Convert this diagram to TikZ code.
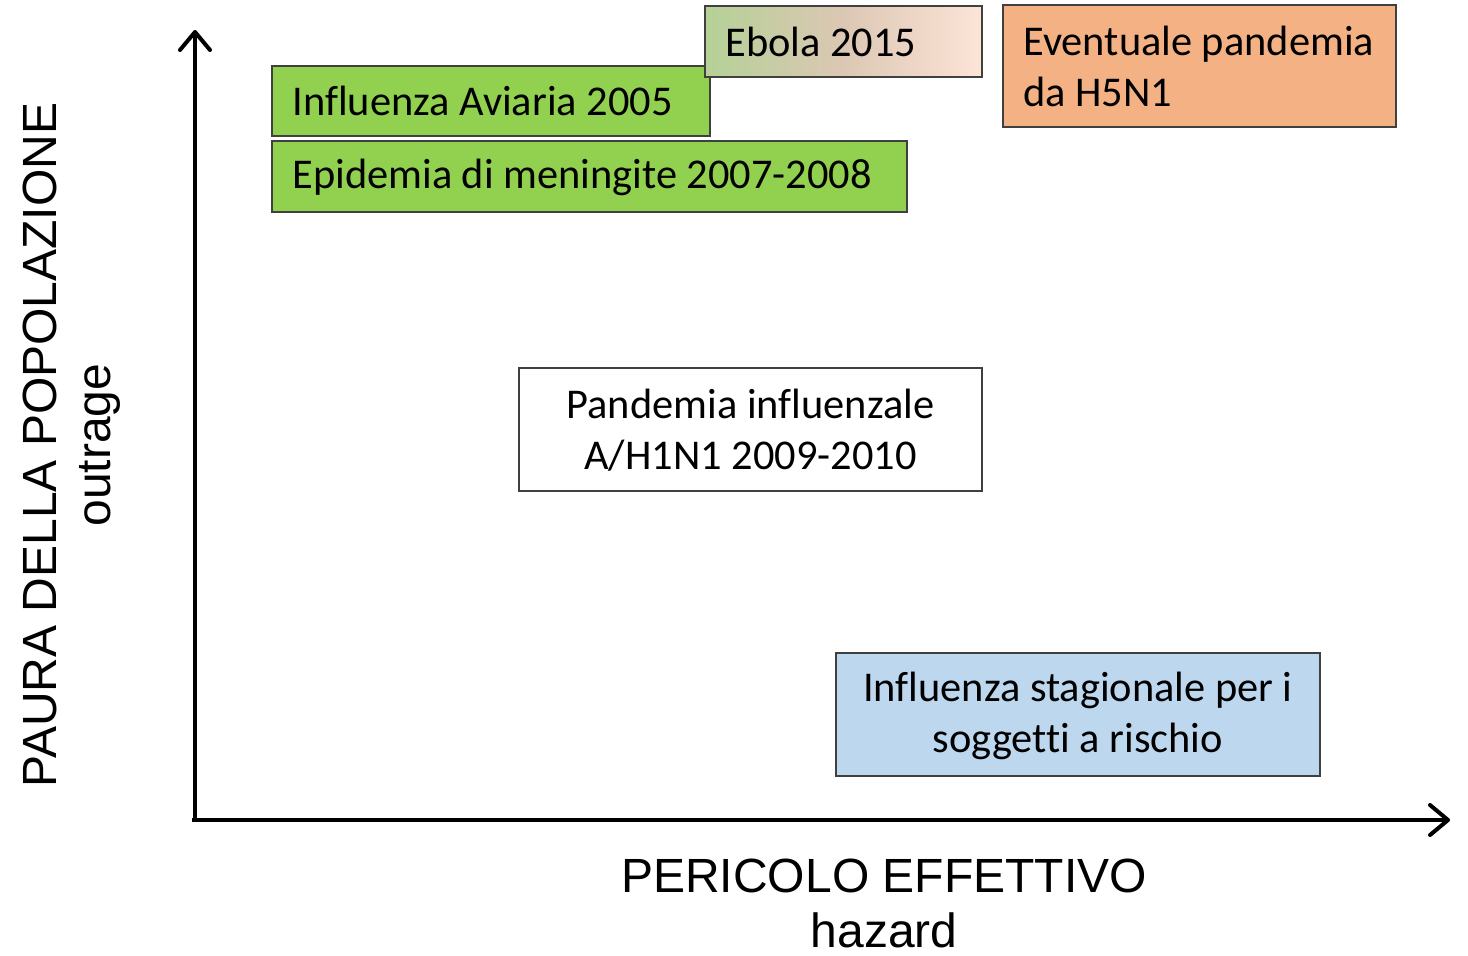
\documentclass[tikz,border=0pt]{standalone}
\usepackage{fontspec}
\setmainfont[Ligatures={NoCommon}]{Carlito}
\newfontfamily\axisfont{Liberation Sans}
\usetikzlibrary{arrows.meta}
\definecolor{grn}{HTML}{92D050}
\definecolor{peach}{HTML}{F4B183}
\definecolor{lblue}{HTML}{BDD7EE}
\definecolor{ebL}{HTML}{B4D196}
\definecolor{ebM}{HTML}{DCC7B4}
\definecolor{ebR}{HTML}{FCE4D6}
\begin{document}
\begin{tikzpicture}[x=0.5pt,y=-0.5pt,
  box/.style={draw=black!75, line width=0.6pt, inner sep=0pt, outer sep=0pt, anchor=north west},
  txt/.style={inner sep=0pt, font=\fontsize{21.2}{25.5}\selectfont},
  axis/.style={line width=2pt, -{Straight Barb[length=9pt,width=15pt,line cap=round,line join=round]}},
  albl/.style={font=\axisfont\fontsize{24}{28}\selectfont, inner sep=0pt}]
\useasboundingbox (0,0) rectangle (1468,955);
% boxes
\node[box, fill=grn, minimum width=219pt, minimum height=35pt] (avi) at (272,66) {};
\node[txt, anchor=west] (avit) at (292,101) {Influenza Aviaria 2005};
\path[left color=ebL, right color=ebR, middle color=ebM] (705,6) rectangle (982,77);
\node[box, minimum width=138.5pt, minimum height=35.5pt] (ebo) at (705,6) {};
\node[txt, anchor=west] (ebot) at (725,42) {Ebola 2015};
\node[box, fill=grn, minimum width=317.5pt, minimum height=35.5pt] (epi) at (272,141) {};
\node[txt, anchor=west] (epit) at (292,177) {Epidemia di meningite 2007-2008};
\node[box, fill=peach, minimum width=196.5pt, minimum height=61pt] (eve) at (1003,5) {};
\node[txt, anchor=north west, align=left] (evet) at (1023,26) {Eventuale pandemia\\da H5N1};
\node[box, fill=white, minimum width=231.5pt, minimum height=61.5pt] (pan) at (519,368) {};
\node[txt, align=center] (pant) at (750.5,430) {Pandemia influenzale\\A/H1N1 2009-2010};
\node[box, fill=lblue, minimum width=242pt, minimum height=61.5pt] (sta) at (836,653) {};
\node[txt, align=center] (stat) at (1078,716) {Influenza stagionale per i\\soggetti a rischio};
% axes
\coordinate (ytop) at (195,30);
\coordinate (xend) at (1450,820);
\draw[axis] (192,820) -- (xend);
\draw[axis] (195,822) -- (ytop);
% axis labels
\node[albl] (xl) at (884,876) {PERICOLO EFFETTIVO};
\node[albl] (xh) at (884,930) {hazard};
\node[albl, rotate=90] (yl) at (40,445) {PAURA DELLA POPOLAZIONE};
\node[albl, rotate=90] (yo) at (100,445) {outrage};
\end{tikzpicture}
\end{document}
